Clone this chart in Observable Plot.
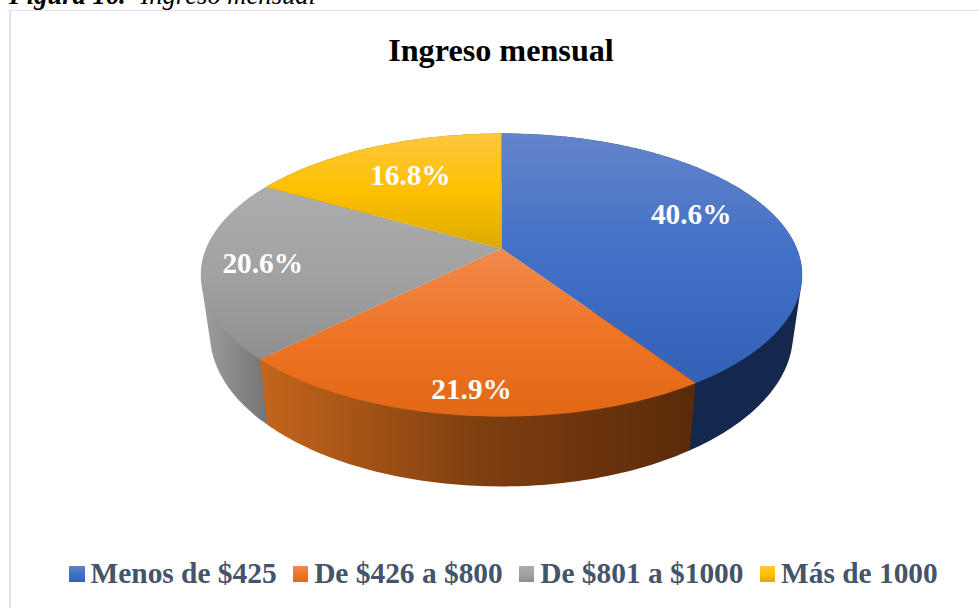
<!DOCTYPE html>
<html lang="es">
<head>
<meta charset="utf-8">
<script src="https://cdn.jsdelivr.net/npm/d3@7"></script>
<script src="https://cdn.jsdelivr.net/npm/@observablehq/plot@0.6"></script>
<style>
html,body{margin:0;padding:0;background:#fff;width:979px;height:608px;overflow:hidden;font-family:"Liberation Serif",serif}
#caption{position:absolute;left:9px;top:-20px;font-size:26.6px;font-style:italic;color:#000;white-space:nowrap;line-height:30px}
#caption span{margin-left:8px}
#frame{position:absolute;left:9px;top:10px;width:975px;height:610px;border:1px solid #dfe3ec;border-left-width:2px;box-sizing:border-box}
#title{position:absolute;left:0;top:32px;width:1002px;text-align:center;font-size:32.2px;font-weight:bold;color:#000;line-height:36px}
#chart{position:absolute;left:0;top:0}
#legend{position:absolute;left:69px;top:555px;display:flex;font-size:29.4px;font-weight:bold;color:#44546a;line-height:36px;white-space:nowrap}
#legend .item{display:flex;align-items:center;margin-right:16px}
#legend .sw{width:15.5px;height:15.5px;margin-right:6px;margin-top:2px}
</style>
</head>
<body>
<div id="caption"><b>Figura 16.</b> <span>Ingreso mensual</span></div>
<div id="frame"></div>
<div id="chart"></div>
<div id="title">Ingreso mensual</div>
<div id="legend"></div>
<script>
const categories = ["Menos de $425", "De $426 a $800", "De $801 a $1000", "Más de 1000"];
const shares = [40.6, 21.9, 20.6, 16.8];
const shareLabels = ["40.6%", "21.9%", "20.6%", "16.8%"];

// label placement (degrees clockwise from the back, fraction of radius)
const labelTheta = [68.8, 185.6, 262, 330];
const labelRadius = [0.723, 0.87, 0.80, 0.686];

const topStops = [
  ["#6384ca", "#4170c6", "#3261b6"],
  ["#f08a4c", "#ef7527", "#e16815"],
  ["#adadad", "#a2a2a2", "#8f8f8f"],
  ["#fec73f", "#fec000", "#dcaa00"]
];
// side walls: colour and horizontal extent of each wall's gradient in px
const sideStops = [
  ["#14284d", "#14284d"],
  ["#c4651b", "#7f3f10", "#5a2a09"],
  ["#9c9c9c", "#737373"],
  ["#8a6a00", "#8a6a00"]
];
const sideExtent = [[690, 800], [262, 692], [205, 268], [260, 500]];
// walls overlap at their shared edges: the front wall goes last
const wallOrder = [3, 0, 2, 1];

// perspective of the tilted disc
const k = 0.1873, baseScaleX = 0.97, baseScaleY = 1.077, baseDrop = 0.4176;
const rad = d => d * Math.PI / 180;
const project = (theta, r = 1) => {
  const u = r * Math.sin(rad(theta)), v = r * Math.cos(rad(theta)), w = 1 + k * v;
  return {x: u / w, y: v / w};
};
const base = theta => {
  const p = project(theta);
  return {x: p.x * baseScaleX, y: p.y * baseScaleY - baseDrop};
};

const total = d3.sum(shares);
let acc = 0;
const slices = shares.map((s, i) => {
  const a = acc / total * 360;
  acc += s;
  return {i, a, b: acc / total * 360};
});
const arc = (a, b) => d3.range(Math.ceil(b - a) + 1).map(n => Math.min(a + n, b));

// each wall is the hull of its top and base rims; the part above the rim is hidden by the top face
const sideMarks = wallOrder.map(i => {
  const {a, b} = slices[i];
  const t = arc(a, b);
  const hull = d3.polygonHull([...t.map(d => project(d)), ...t.map(d => base(d))].map(d => [d.x, d.y]));
  return Plot.line(hull, {x: d => d[0], y: d => d[1], fill: `url(#side${i})`});
});
const topMarks = slices.map(({i, a, b}) => {
  const pts = [{x: 0, y: 0}, ...arc(a, b).map(d => project(d))];
  return Plot.line(pts, {x: "x", y: "y", fill: `url(#top${i})`, stroke: `url(#top${i})`, strokeWidth: 0.3});
});
const labelRows = shareLabels.map((text, i) => ({text, ...project(labelTheta[i], labelRadius[i])}));

const plot = Plot.plot({
  width: 979, height: 608,
  margin: 0,
  style: {background: "transparent", overflow: "visible"},
  x: {domain: [-1, 1], range: [501 - 295.2, 501 + 295.2], axis: null},
  y: {domain: [-1, 1], range: [248 + 136.5, 248 - 136.5], axis: null},
  marks: [
    ...sideMarks,
    ...topMarks,
    Plot.text(labelRows, {
      x: "x", y: "y", text: "text", fill: "#fff",
      fontFamily: "Liberation Serif", fontWeight: "bold", fontSize: 29.3
    })
  ]
});

const defs = d3.select(plot).insert("defs", ":first-child");
topStops.forEach((stops, i) => {
  const g = defs.append("linearGradient").attr("id", `top${i}`)
    .attr("x1", 0).attr("y1", 0).attr("x2", 0).attr("y2", 1);
  stops.forEach((c, j) => g.append("stop").attr("offset", j / (stops.length - 1)).attr("stop-color", c));
});
sideStops.forEach((stops, i) => {
  const g = defs.append("linearGradient").attr("id", `side${i}`).attr("gradientUnits", "userSpaceOnUse")
    .attr("x1", sideExtent[i][0]).attr("y1", 0).attr("x2", sideExtent[i][1]).attr("y2", 0);
  stops.forEach((c, j) => g.append("stop").attr("offset", j / (stops.length - 1)).attr("stop-color", c));
});

document.getElementById("chart").append(plot);

const legend = d3.select("#legend");
categories.forEach((c, i) => {
  const it = legend.append("div").attr("class", "item");
  it.append("div").attr("class", "sw")
    .style("background", `linear-gradient(${topStops[i].join(",")})`);
  it.append("span").text(c);
});
</script>
</body>
</html>
